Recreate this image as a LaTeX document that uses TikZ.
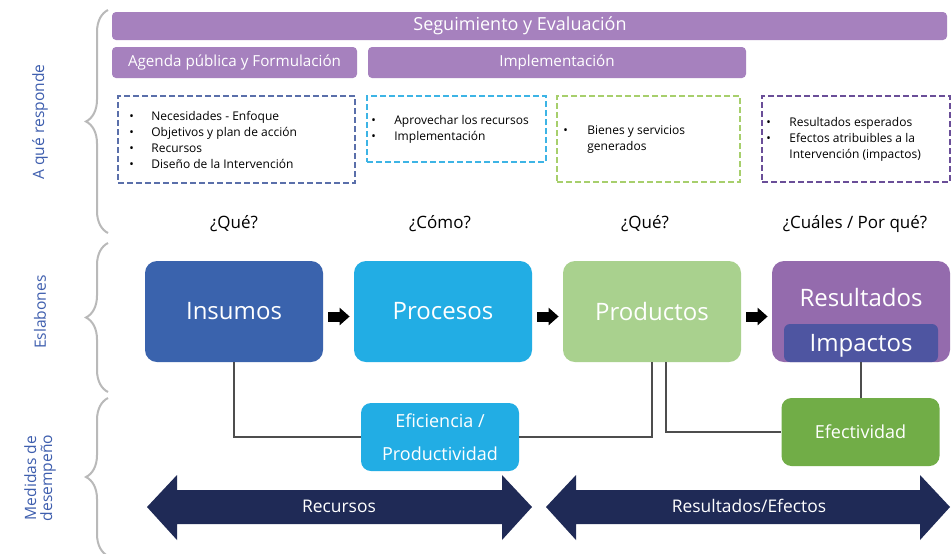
\documentclass[tikz,border=0pt]{standalone}
\usepackage{fontspec}
\setmainfont{Open Sans}
\usetikzlibrary{decorations.pathreplacing,arrows.meta}
\definecolor{barpurple}{HTML}{A681BE}
\definecolor{insblue}{HTML}{3A63AD}
\definecolor{procyan}{HTML}{22ADE4}
\definecolor{prodgreen}{HTML}{A9D18E}
\definecolor{respurple}{HTML}{946BAD}
\definecolor{impblue}{HTML}{4E55A1}
\definecolor{efegreen}{HTML}{71AD47}
\definecolor{navy}{HTML}{1F2A56}
\definecolor{lblblue}{HTML}{3E5EAE}
\definecolor{dashA}{HTML}{5A6FAA}
\definecolor{dashB}{HTML}{3DB4E5}
\definecolor{dashC}{HTML}{A7CF6C}
\definecolor{dashD}{HTML}{6A4E98}
\definecolor{linkgray}{HTML}{4D4D4D}
\tikzset{
  bar/.style={fill=barpurple, rounded corners=2pt, text=white, inner sep=0pt,
    font=\fontsize{7.6}{9}\selectfont},
  dashbox/.style={draw=#1, line width=1pt, dash pattern=on 3pt off 1.5pt, inner sep=0pt},
  items/.style={anchor=west, align=left, inner sep=0pt, font=\fontsize{6}{8}\selectfont},
  question/.style={font=\fontsize{8.5}{10}\selectfont},
  link/.style={fill=#1, rounded corners=6pt, text=white, inner sep=0pt,
    minimum width=89pt, minimum height=50.5pt, font=\fontsize{12}{14}\selectfont},
  measure/.style={fill=#1, rounded corners=5pt, text=white, inner sep=0pt, align=center,
    minimum width=79pt, minimum height=34pt, font=\fontsize{9}{16.5}\selectfont},
  blkarrow/.style={line width=5pt, -{Triangle[length=5pt,width=8.5pt]},
    shorten <=2.5pt, shorten >=2pt},
  connector/.style={draw=linkgray, line width=1pt},
  sidebrace/.style={draw=gray!55, line width=1pt, decorate,
    decoration={brace, amplitude=11pt}},
  sidelabel/.style={rotate=90, text=lblblue, align=center, font=\fontsize{7.8}{8}\selectfont}
}
\newcommand{\bul}[1]{\makebox[#1][l]{\textbullet}}
\begin{document}
\begin{tikzpicture}[x=0.5pt, y=-0.5pt]
  \fill[white] (0,0) rectangle (952,553);
  \useasboundingbox (0,0) rectangle (952,553);

  % side labels and braces
  \node[sidelabel] (lblresp) at (40,122) {A qué responde};
  \node[sidelabel] (lbleslab) at (40,312) {Eslabones};
  \node[sidelabel] (lblmed) at (40,478) {Medidas de\\desempeño};
  \draw[sidebrace] (108,233) -- (108,10);
  \draw[sidebrace] (108,392) -- (108,243);
  \draw[sidebrace] (108,556) -- (108,398);

  % phase bars
  \node[bar, minimum width=417.5pt, minimum height=14pt, font=\fontsize{9}{10}\selectfont] (segui) at (529.5,26) {\hspace{-9.5pt}Seguimiento y Evaluación};
  \node[bar, minimum width=122.5pt, minimum height=15.5pt] (agenda) at (234.5,62.5) {Agenda pública y Formulación};
  \node[bar, minimum width=189pt, minimum height=15.5pt] (implem) at (557,62.5) {Implementación};

  % what each link answers
  \node[dashbox=dashA, minimum width=118.5pt, minimum height=43.5pt] (boxins) at (236.5,139.5) {};
  \node[items] (txtins) at (129,140) {\bul{11pt}Necesidades - Enfoque\\
    \bul{11pt}Objetivos y plan de acción\\
    \bul{11pt}Recursos\\
    \bul{11pt}Diseño de la Intervención};
  \node[dashbox=dashB, minimum width=89.5pt, minimum height=33pt] (boxpro) at (456.5,129) {};
  \node[items] (txtpro) at (371,129) {\bul{11.5pt}Aprovechar los recursos\\
    \bul{11.5pt}Implementación};
  \node[dashbox=dashC, minimum width=91.5pt, minimum height=43pt] (boxprod) at (648.5,139) {};
  \node[items] (txtprod) at (563,140) {\bul{12pt}Bienes y servicios\\
    \hspace*{12pt}generados};
  \node[dashbox=dashD, minimum width=94pt, minimum height=43pt] (boxres) at (856,139) {};
  \node[items] (txtres) at (766,139) {\bul{11.5pt}Resultados esperados\\
    \bul{11.5pt}Efectos atribuibles a la\\
    \hspace*{11.5pt}Intervención (impactos)};

  % questions
  \node[question] (q1) at (234,224) {¿Qué?};
  \node[question] (q2) at (440,224) {¿Cómo?};
  \node[question] (q3) at (645,224) {¿Qué?};
  \node[question] (q4) at (855,224) {¿Cuáles / Por qué?};

  % chain links
  \node[link=insblue] (ins) at (234,311.5) {Insumos};
  \node[link=procyan] (pro) at (443,311.5) {Procesos};
  \node[link=prodgreen] (prod) at (652,311.5) {Productos};
  \node[link=respurple] (res) at (861,311.5) {};
  \node[text=white, font=\fontsize{12}{14}\selectfont] (restxt) at (861,297) {Resultados};
  \node[fill=impblue, rounded corners=3pt, text=white, inner sep=0pt, minimum width=77pt,
    minimum height=19pt, text height=8.6pt, text depth=0pt,
    font=\fontsize{12}{14}\selectfont] (imp) at (861,343) {Impactos};

  \draw[blkarrow] ([yshift=-2.5pt]ins.east) -- ([yshift=-2.5pt]pro.west);
  \draw[blkarrow] ([yshift=-2.5pt]pro.east) -- ([yshift=-2.5pt]prod.west);
  \draw[blkarrow] ([yshift=-2.5pt]prod.east) -- ([yshift=-2.5pt]res.west);

  % performance measures
  \node[measure=procyan] (efi) at (440,437) {Eficiencia /\\Productividad};
  \node[measure=efegreen] (efe) at (860.5,432) {Efectividad};

  \draw[connector] (ins.south) |- (efi.west);
  \draw[connector] (efi.east) -| (prod.south);
  \draw[connector] ([xshift=7pt]prod.south) |- (efe.west);
  \draw[connector] (imp.south) -- (imp.south |- efe.north);

  % double arrows
  \fill[navy] (147,507) -- (177,475) -- (177,490) -- (502,490) -- (502,475) -- (532,507)
    -- (502,540) -- (502,524) -- (177,524) -- (177,540) -- cycle;
  \node[text=white, font=\fontsize{8.7}{10}\selectfont] (recur) at (339,506) {Recursos};
  \fill[navy] (546,507) -- (576,475) -- (576,490) -- (920,490) -- (920,475) -- (950,507)
    -- (920,540) -- (920,524) -- (576,524) -- (576,540) -- cycle;
  \node[text=white, font=\fontsize{8.7}{10}\selectfont] (resef) at (749,506) {Resultados/Efectos};
\end{tikzpicture}
\end{document}
